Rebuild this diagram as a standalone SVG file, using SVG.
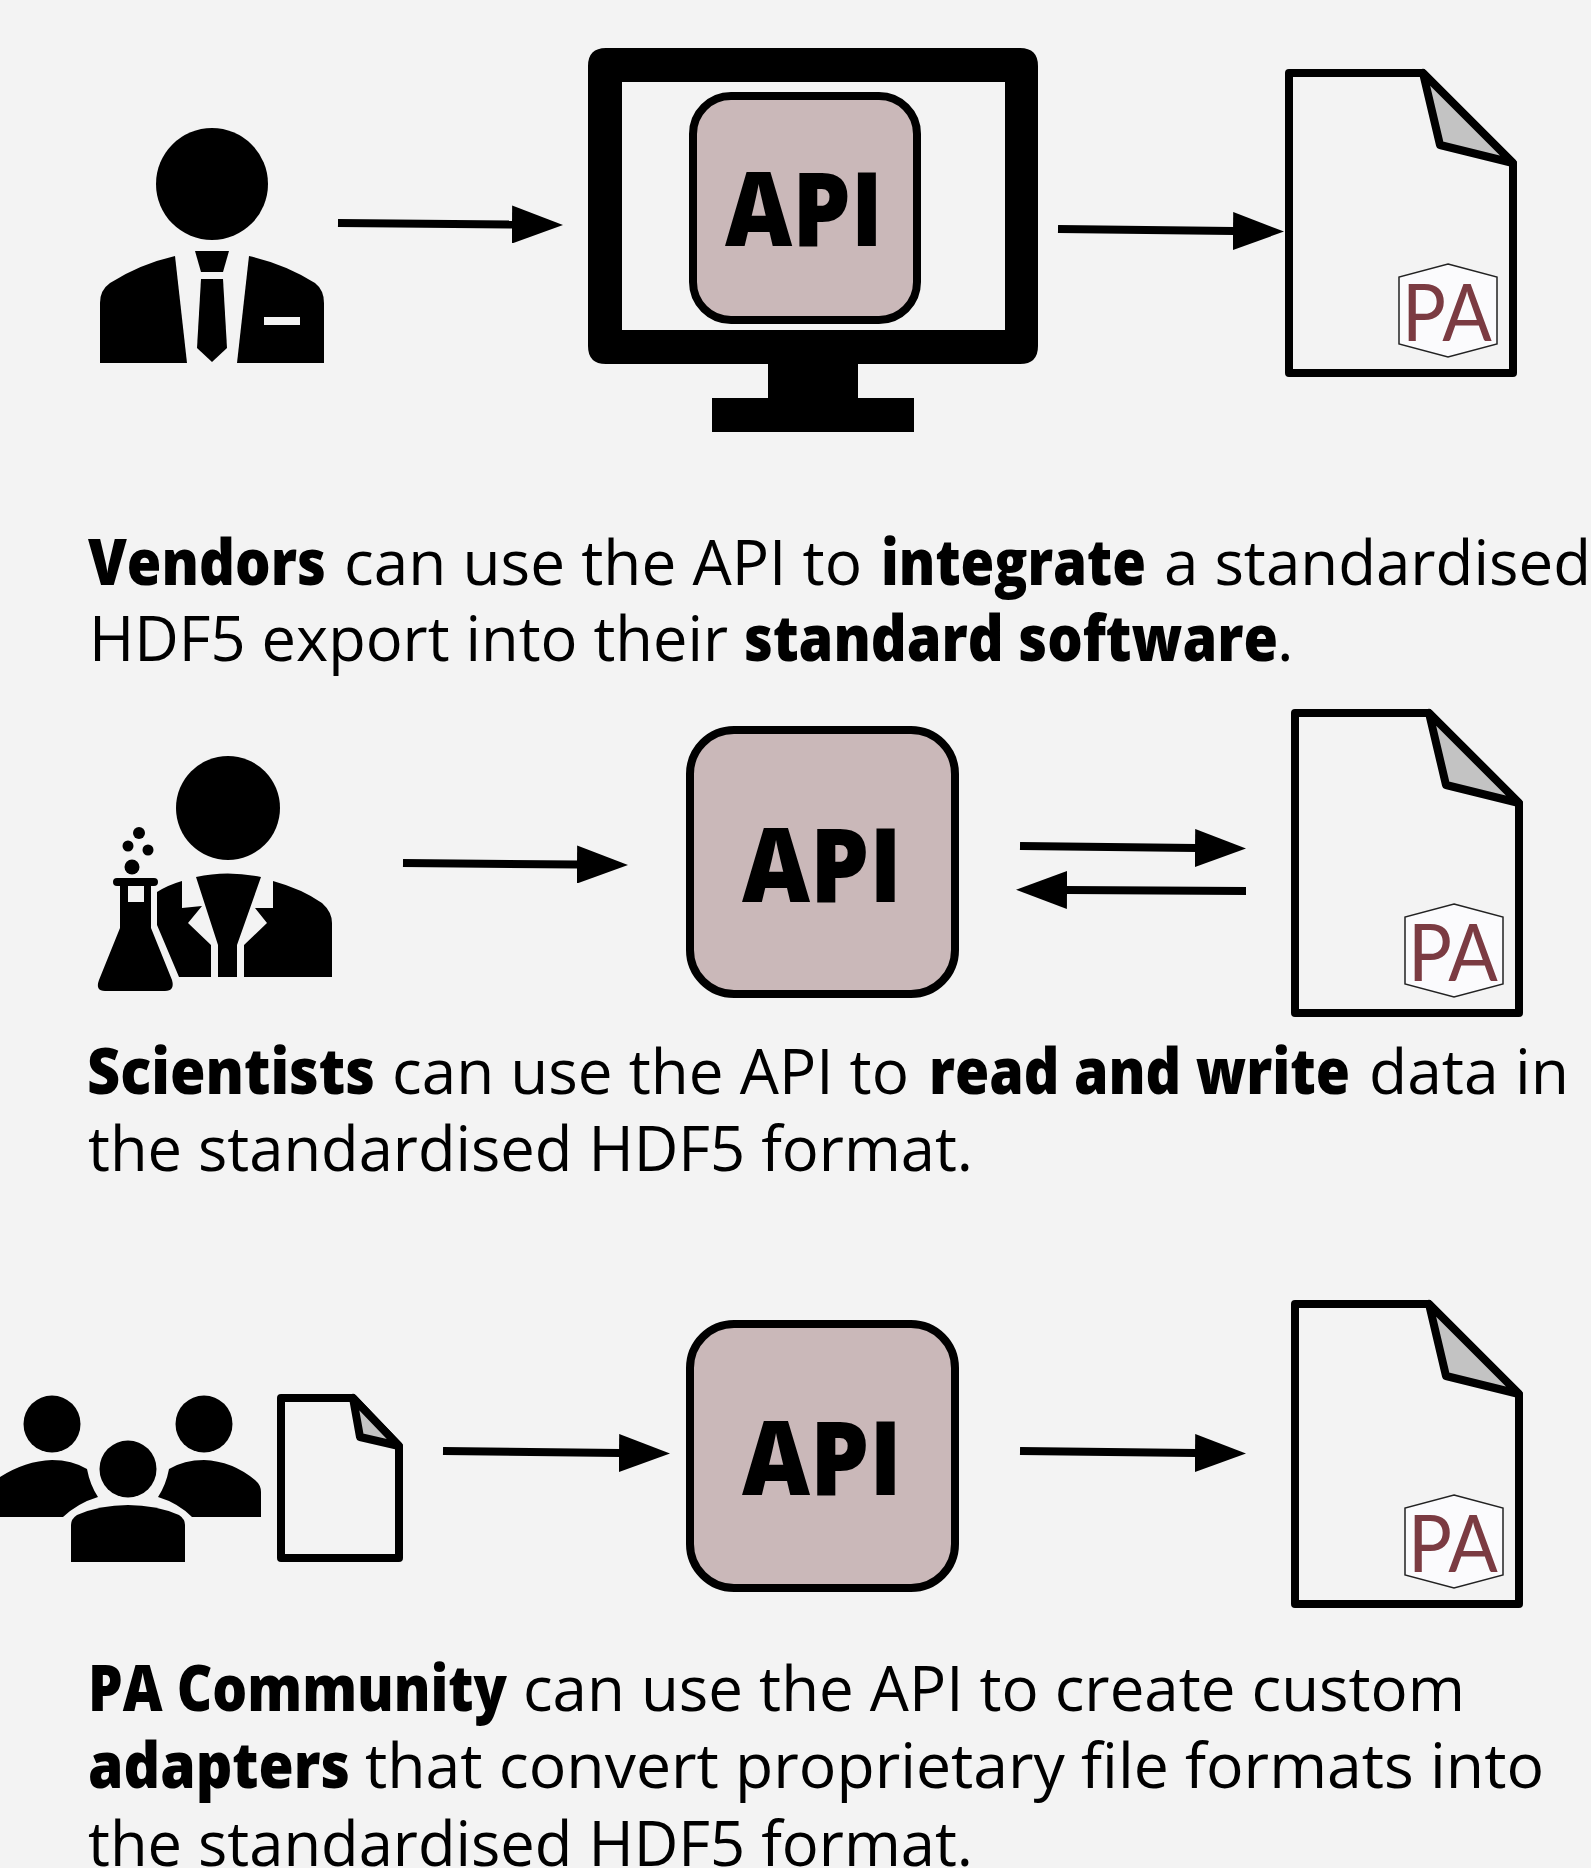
<svg xmlns="http://www.w3.org/2000/svg" width="1591" height="1868" viewBox="0 0 1591 1868">
<style>
.t{font-family:"Open Sans","Noto Sans",sans-serif;font-size:63px;fill:#000}
.b{font-weight:800}
.api{font-family:"Open Sans","Noto Sans",sans-serif;font-weight:800;font-size:103px;fill:#000}
.box{fill:#cab8b9;stroke:#000;stroke-width:8}
.doc{fill:none;stroke:#000;stroke-width:8;stroke-linejoin:round}
.fold{fill:#c3c3c3;stroke:#000;stroke-width:8;stroke-linejoin:round}
.hex{fill:#fbfbfd;stroke:#222;stroke-width:1.5}
.pa{font-family:"Lato","Open Sans",sans-serif;font-weight:400;font-size:80px;fill:#7b3b42}
.cut{fill:#f3f3f3}
.ln{stroke:#000;stroke-width:8;fill:none}
</style>
<defs>
<marker id="ah" markerUnits="userSpaceOnUse" markerWidth="52" markerHeight="38" refX="1" refY="19" orient="auto"><path d="M0 0L51 19L0 38Z" fill="#000"/></marker>
<g id="docshape">
<path class="doc" d="M1289 73H1423L1513 163V373H1289Z"/>
<path class="fold" d="M1423 73L1440 145L1513 163Z"/>
<path class="hex" d="M1448 264L1497 277V344L1448 357L1399 344V277Z"/>
</g>
</defs>
<rect width="1591" height="1868" fill="#f3f3f3"/>

<g id="vendor">
<circle cx="212" cy="184" r="56"/>
<path d="M100 363V303Q100 290 110 283Q140 264 175 256L187 363Z"/>
<path d="M324 363V303Q324 290 315 283Q285 264 249 256L237 363Z"/>
<path class="cut" d="M264 317H300V325H264Z"/>
<path d="M195 251H229L223 272H201Z"/>
<path d="M201 279H223L227 348L212 362L197 348Z"/>
</g>

<g id="monitor">
<path fill-rule="evenodd" d="M606 48H1020Q1038 48 1038 66V346Q1038 364 1020 364H858V398H914V432H712V398H768V364H606Q588 364 588 346V66Q588 48 606 48ZM622 82V330H1005V82Z"/>
</g>
<g id="api-1">
<rect class="box" x="693" y="96" width="224" height="224" rx="38"/>
<text class="api" x="725" y="246" textLength="158" lengthAdjust="spacingAndGlyphs">API</text>
</g>
<g id="file-1">
<use href="#docshape"/>
<text class="pa" x="1402" y="341" textLength="90" lengthAdjust="spacingAndGlyphs">PA</text>
</g>

<g id="scientist">
<circle cx="228" cy="808" r="52"/>
<circle cx="139" cy="833" r="6"/><circle cx="128" cy="846" r="5.5"/><circle cx="148" cy="850" r="5.5"/><circle cx="132" cy="867" r="7.5"/>
<path d="M117 878H154Q158 878 158 882Q158 886 154 886H151V928L172 980Q175 991 165 991H105Q95 991 99 980L120 928V886H117Q113 886 113 882Q113 878 117 878Z"/>
<path class="cut" d="M128 886H144V902H128Z"/>
<path d="M157 892Q168 885 182 881V908L202 906L188 923L211 945V977H179L157 925Z"/>
<path d="M196 877Q227 870 261 877L237 945V977H218V945Z"/>
<path d="M273 881Q302 889 322 903Q332 912 332 923V977H244V945L267 923L255 908H273Z"/>
</g>
<g id="api-2">
<rect class="box" x="690" y="730" width="265" height="264" rx="44"/>
<text class="api" x="742" y="902" textLength="160" lengthAdjust="spacingAndGlyphs">API</text>
</g>
<g id="file-2" transform="translate(6 640)">
<use href="#docshape"/>
<text class="pa" x="1402" y="341" textLength="90" lengthAdjust="spacingAndGlyphs">PA</text>
</g>

<g id="community">
<circle cx="52" cy="1424" r="28.5"/><circle cx="204" cy="1424" r="28.5"/><circle cx="128" cy="1469" r="28.5"/>
<path d="M87 1469Q72 1460 52 1460Q25 1461 0 1477V1517H63Q78 1503 98 1497Q90 1485 87 1469Z"/>
<path d="M169 1469Q184 1460 204 1460Q232 1461 255 1480Q261 1485 261 1492V1517H192Q178 1503 158 1497Q166 1485 169 1469Z"/>
<path d="M71 1562V1525Q71 1519 77 1515Q100 1505 128 1505Q156 1505 179 1515Q185 1519 185 1525V1562Z"/>
</g>
<g id="source-file">
<path class="doc" d="M281 1398H353L399 1446V1558H281Z"/>
<path class="fold" d="M353 1398L360 1437L399 1446Z"/>
</g>
<g id="api-3">
<rect class="box" x="690" y="1324" width="265" height="264" rx="44"/>
<text class="api" x="742" y="1495" textLength="160" lengthAdjust="spacingAndGlyphs">API</text>
</g>
<g id="file-3" transform="translate(6 1231)">
<use href="#docshape"/>
<text class="pa" x="1402" y="341" textLength="90" lengthAdjust="spacingAndGlyphs">PA</text>
</g>

<g id="connectors">
<path class="ln" marker-end="url(#ah)" d="M338 223L513 224.5"/>
<path class="ln" marker-end="url(#ah)" d="M1058 229L1234 231"/>
<path class="ln" marker-end="url(#ah)" d="M403 863L578 864.5"/>
<path class="ln" marker-end="url(#ah)" d="M1020 846L1196 848"/>
<path class="ln" marker-end="url(#ah)" d="M1246 891L1066 890"/>
<path class="ln" marker-end="url(#ah)" d="M443 1451L620 1453"/>
<path class="ln" marker-end="url(#ah)" d="M1020 1451L1196 1453"/>
</g>

<g id="captions">
<text class="t" y="585"><tspan class="b" x="88" textLength="238" lengthAdjust="spacingAndGlyphs">Vendors</tspan><tspan x="344" textLength="518" lengthAdjust="spacingAndGlyphs">can use the API to</tspan><tspan class="b" x="881" textLength="265" lengthAdjust="spacingAndGlyphs">integrate</tspan><tspan x="1164" textLength="427" lengthAdjust="spacingAndGlyphs">a standardised</tspan></text>
<text class="t" y="661"><tspan x="89" textLength="639" lengthAdjust="spacingAndGlyphs">HDF5 export into their</tspan><tspan class="b" x="744" textLength="534" lengthAdjust="spacingAndGlyphs">standard software</tspan><tspan x="1277">.</tspan></text>
<text class="t" y="1094"><tspan class="b" x="87" textLength="288" lengthAdjust="spacingAndGlyphs">Scientists</tspan><tspan x="392" textLength="517" lengthAdjust="spacingAndGlyphs">can use the API to</tspan><tspan class="b" x="929" textLength="421" lengthAdjust="spacingAndGlyphs">read and write</tspan><tspan x="1369" textLength="200" lengthAdjust="spacingAndGlyphs">data in</tspan></text>
<text class="t" y="1171" x="88" textLength="885" lengthAdjust="spacingAndGlyphs">the standardised HDF5 format.</text>
<text class="t" y="1711"><tspan class="b" x="88" textLength="419" lengthAdjust="spacingAndGlyphs">PA Community</tspan><tspan x="523" textLength="942" lengthAdjust="spacingAndGlyphs">can use the API to create custom</tspan></text>
<text class="t" y="1788"><tspan class="b" x="88" textLength="262" lengthAdjust="spacingAndGlyphs">adapters</tspan><tspan x="365" textLength="1179" lengthAdjust="spacingAndGlyphs">that convert proprietary file formats into</tspan></text>
<text class="t" y="1866" x="88" textLength="885" lengthAdjust="spacingAndGlyphs">the standardised HDF5 format.</text>
</g>
</svg>
